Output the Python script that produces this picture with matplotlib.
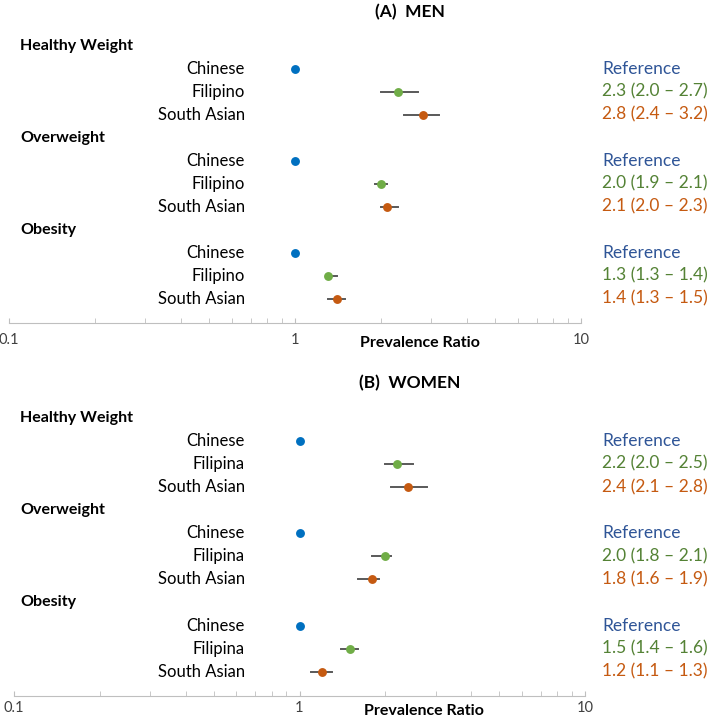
import matplotlib.pyplot as plt
import matplotlib.transforms as mtransforms

plt.rcParams['font.family'] = ['Lato', 'DejaVu Sans']

groups = ["Healthy Weight", "Overweight", "Obesity"]
men_labels = ["Chinese", "Filipino", "South Asian"]
women_labels = ["Chinese", "Filipina", "South Asian"]

# prevalence ratio, lower CI, upper CI per group (Chinese is reference = 1)
men_pr = [[1.0, 2.3, 2.8], [1.0, 2.0, 2.1], [1.0, 1.3, 1.4]]
men_lo = [[1.0, 2.0, 2.4], [1.0, 1.9, 2.0], [1.0, 1.3, 1.3]]
men_hi = [[1.0, 2.7, 3.2], [1.0, 2.1, 2.3], [1.0, 1.4, 1.5]]

women_pr = [[1.0, 2.2, 2.4], [1.0, 2.0, 1.8], [1.0, 1.5, 1.2]]
women_lo = [[1.0, 2.0, 2.1], [1.0, 1.8, 1.6], [1.0, 1.4, 1.1]]
women_hi = [[1.0, 2.5, 2.8], [1.0, 2.1, 1.9], [1.0, 1.6, 1.3]]

dot_colors = ["#0070C0", "#70AD47", "#C55A11"]
text_colors = ["#2F5597", "#548235", "#C55A11"]
err_color = "#595959"

W, H = 708, 720
fig = plt.figure(figsize=(W / 100, H / 100), dpi=100)


def panel(rect, title, title_y, labels, pr, lo, hi, pad):
    ax = fig.add_axes(rect)
    ax.set_xscale("log")
    ax.set_xlim(0.1, 10)
    ax.set_ylim(12.05, -1)
    trans = mtransforms.blended_transform_factory(fig.transFigure, ax.transData)
    for g, name in enumerate(groups):
        y0 = g * 4
        fig.text(20 / W, y0, name, transform=trans, ha="left", va="center",
                 fontsize=11.5, fontweight="bold")
        for i in range(3):
            y = y0 + 1 + i
            fig.text(245 / W, y, labels[i], transform=trans, ha="right",
                     va="center", fontsize=12)
            v = pr[g][i]
            if i > 0:
                ax.plot([lo[g][i], hi[g][i]], [y, y], color=err_color,
                        lw=1.4, zorder=2)
                txt = "%.1f (%.1f \u2013 %.1f)" % (v, lo[g][i], hi[g][i])
            else:
                txt = "Reference"
            ax.plot(v, y, "o", color=dot_colors[i], ms=6.4, mec="none", zorder=3)
            fig.text(602 / W, y, txt, transform=trans, ha="left", va="center",
                     fontsize=12.5, color=text_colors[i])
    for s in ["top", "left", "right"]:
        ax.spines[s].set_visible(False)
    ax.spines["bottom"].set_color("#BFBFBF")
    ax.tick_params(axis="x", which="both", direction="in", length=3.5,
                   color="#BFBFBF", labelsize=10.5, labelcolor="#404040", pad=pad)
    ax.set_xticks([0.1, 1, 10])
    ax.set_xticklabels(["0.1", "1", "10"])
    ax.set_yticks([])
    ax.xaxis.set_minor_formatter(plt.NullFormatter())
    ax.annotate("Prevalence Ratio", xy=(0.718, 0), xycoords="axes fraction",
                xytext=(0, -(pad + 7.5)), textcoords="offset points",
                ha="center", va="center", fontsize=11.5, fontweight="bold")
    fig.text(410 / W, title_y, title, ha="center", va="center",
             fontsize=12.5, fontweight="bold")
    return ax


row_a = 23.0
panel([9 / W, (H - 323) / H, 572 / W, 13.05 * row_a / H], "(A)  MEN", 1 - 12 / H,
      men_labels, men_pr, men_lo, men_hi, 7)
row_b = 23.1
panel([14 / W, (H - 696) / H, 571 / W, 13.05 * row_b / H], "(B)  WOMEN", 1 - 383 / H,
      women_labels, women_pr, women_lo, women_hi, 3.5)

fig.savefig("out.png", dpi=100)
